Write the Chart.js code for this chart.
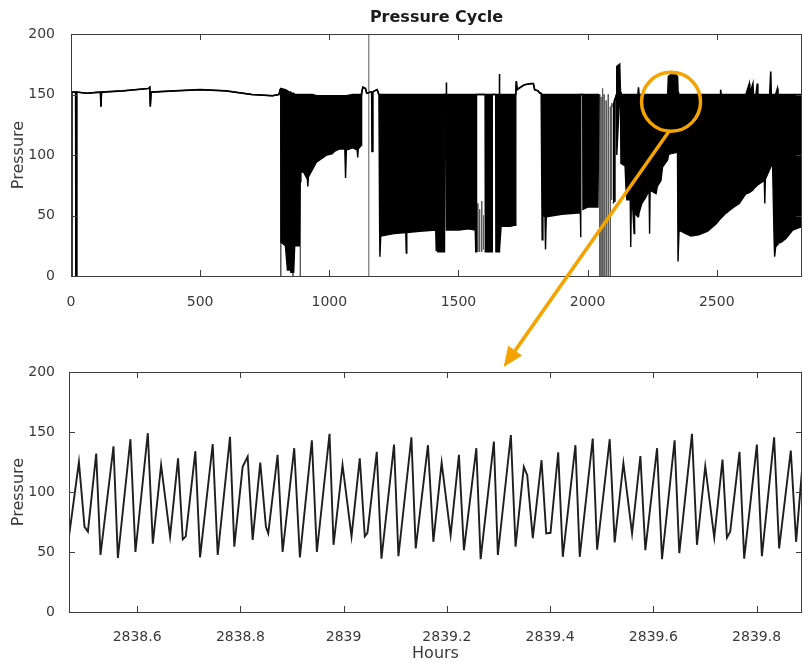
<!DOCTYPE html>
<html>
<head>
<meta charset="utf-8">
<script src="https://cdn.jsdelivr.net/npm/chart.js@4.4.1/dist/chart.umd.min.js"></script>
<style>
  body { margin: 0; background: #ffffff; }
  #wrap { position: relative; width: 803px; height: 663px; overflow: hidden; }
  #wrap canvas { position: absolute; left: 0; }
  #topCanvas { top: 0; }
  #zoomCanvas { top: 330px; }
  #mark { top: 0; pointer-events: none; }
</style>
</head>
<body>
<div id="wrap">
  <canvas id="topCanvas" width="803" height="330"></canvas>
  <canvas id="zoomCanvas" width="803" height="333"></canvas>
  <canvas id="mark" width="803" height="663"></canvas>
</div>
<script>
// ---- 위쪽 그래프: 전체 기간 (상단/하단 포락선, 사이를 검게 채움) ----
var topHours = [2, 3, 18, 19, 21, 22, 60, 114, 116, 118, 200, 300, 305, 307, 310, 400, 500, 600, 700, 780, 805,
	810, 812, 813, 830, 838, 845, 846, 850, 851, 862, 866, 884, 887, 890, 900, 915, 917, 919, 935, 950, 970, 990, 1010, 1020, 1040, 1060, 1063, 1066, 1090, 1108, 1110, 1112, 1124,
	1125, 1130, 1140, 1145, 1148, 1158, 1164, 1166, 1168, 1175, 1185, 1192,
	1195, 1196, 1199, 1250, 1296, 1298, 1300, 1350, 1412, 1414, 1416, 1420, 1446, 1448, 1452, 1453, 1454, 1500, 1540, 1565, 1567, 1569, 1570, 1603, 1604, 1630, 1631, 1644, 1645, 1657, 1658, 1660, 1665, 1700, 1720,
	1722, 1724, 1727, 1740, 1755, 1780, 1790, 1795, 1808, 1815, 1820,
	1824, 1827, 1835, 1837, 1840, 1900, 1960, 1972, 1973, 1974, 1981, 1982, 2000, 2040, 2044,
	2070,
	2098, 2104, 2106, 2112, 2113, 2124, 2127,
	2129, 2145, 2149, 2152, 2165, 2167, 2169, 2175, 2180, 2182, 2195, 2197, 2199, 2210, 2225, 2238, 2240, 2242, 2265, 2270, 2284, 2290, 2310, 2313, 2320, 2342, 2348, 2350, 2352, 2354,
	2380, 2400, 2430, 2465, 2497, 2513, 2515, 2517, 2536, 2560, 2587, 2613, 2626, 2628, 2640, 2642, 2652, 2657, 2659, 2684, 2686, 2688, 2705, 2709, 2711, 2716,
	2722, 2724, 2728, 2735, 2737, 2750, 2768, 2794, 2830];
var topUpper = [0, 152, 152, 0, 0, 152, 151, 152, 140, 152, 153, 155, 156, 140, 152, 153, 154, 153, 150, 149, 150,
	154, 155, 155, 154, 153, 152, 152, 152, 151, 151, 150, 150, 150, 150, 150, 150, 150, 150, 150, 149, 149, 149, 149, 149, 149, 149, 149, 149, 150, 150, 150, 150, 150,
	151, 156, 155, 151, 151, 152, 152, 103, 152, 153, 154, 150,
	150, 150, 150, 150, 150, 150, 150, 150, 150, 150, 150, 150, 150, 150, 150, 160, 150, 150, 150, 150, 150, 150, 150, 150, 150, 150, 150, 150, 150, 150, 167, 150, 150, 150, 150,
	151, 161, 154, 156, 158, 159, 159, 154, 153, 151, 151,
	150, 150, 150, 150, 150, 150, 150, 150, 150, 150, 150, 150, 150, 150, 150,
	null,
	140, 145, 145, 150, 173, 175, 152,
	150, 150, 150, 150, 150, 150, 150, 150, 150, 150, 150, 156, 150, 150, 150, 150, 150, 150, 150, 150, 150, 150, 150, 165, 166, 166, 165, 152, 150, 150,
	150, 150, 150, 150, 150, 150, 154, 150, 150, 150, 150, 150, 159, 150, 159, 150, 150, 159, 150, 150, 150, 150, 150, 169, 150, 150,
	150, 150, 150, 155, 150, 150, 150, 150, 150];
var topLower = [0, 152, 152, 0, 0, 152, 151, 152, 140, 152, 153, 155, 156, 140, 152, 153, 154, 153, 150, 149, 150,
	154, 155, 28, 25, 5, 5, 126, 126, 3, 3, 25, 25, 78, 86, 86, 80, 74, 82, 88, 94, 97, 100, 101, 103, 105, 105, 81, 104, 106, 104, 98, 105, 108,
	151, 156, 155, 151, 151, 152, 152, 103, 152, 153, 154, 150,
	34, 16, 33, 35, 36, 19, 36, 37, 38, 21, 38, 20, 20, 150, 150, 38, 38, 38, 39, 38, 20, 20, 150, 150, 20, 20, 150, 150, 20, 20, 20, 22, 41, 41, 42,
	151, 161, 154, 156, 158, 159, 159, 154, 153, 151, 151,
	30, 50, 49, 22, 49, 51, 52, 52, 32, 150, 150, 55, 57, 57, 150,
	null,
	60, 62, 145, 150, 100, 150, 152,
	93, 91, 71, 63, 63, 24, 58, 55, 35, 52, 49, 49, 52, 60, 65, 71, 35, 71, 68, 74, 79, 90, 96, 100, 101, 102, 102, 12, 12, 38,
	35, 33, 34, 37, 43, 47, 47, 48, 52, 56, 60, 68, 69, 69, 71, 72, 74, 75, 75, 79, 60, 80, 88, 90, 91, 93,
	30, 16, 24, 26, 27, 28, 31, 38, 41];

// 얇은 세로선 (회색으로 보이는 부분)
var lineHours = [812, 859, 888, 1153, 1575, 1582, 1590, 1597, 2047, 2052, 2058, 2064, 2072, 2080, 2088, 2093];
var lineFrom = [150, 150, 150, 0, 60, 55, 62, 50, 150, 148, 155, 150, 145, 150, 140, 143];
var lineTo = [0, 0, 0, 200, 20, 20, 20, 22, 0, 0, 0, 0, 0, 0, 0, 63];

// ---- 아래쪽 그래프: 확대 구간 ----
var zoomHours = [2838.468, 2838.4872, 2838.4981, 2838.5046, 2838.5207, 2838.5290, 2838.5542, 2838.5627, 2838.5870, 2838.5967,
	2838.6207, 2838.6304, 2838.6464, 2838.6638, 2838.6793, 2838.6884, 2838.6942, 2838.7128, 2838.7219, 2838.7464,
	2838.7561, 2838.7799, 2838.7882, 2838.8044, 2838.8141, 2838.8238, 2838.8385, 2838.8495, 2838.8540, 2838.8721,
	2838.8818, 2838.9043, 2838.9153, 2838.9385, 2838.9482, 2838.9727, 2838.9805, 2838.9979, 2839.0153, 2839.0313,
	2839.0410, 2839.0462, 2839.0642, 2839.0733, 2839.0977, 2839.1062, 2839.1313, 2839.1397, 2839.1634, 2839.1739,
	2839.1899, 2839.2073, 2839.2234, 2839.2331, 2839.2571, 2839.2654, 2839.2911, 2839.2988, 2839.3240, 2839.3331,
	2839.3491, 2839.3557, 2839.3665, 2839.3834, 2839.3925, 2839.4008, 2839.4157, 2839.4246, 2839.4491, 2839.4574,
	2839.4826, 2839.4911, 2839.5155, 2839.5251, 2839.5420, 2839.5588, 2839.5749, 2839.5845, 2839.6072, 2839.6168,
	2839.6412, 2839.6503, 2839.6749, 2839.6845, 2839.7006, 2839.7180, 2839.7340, 2839.7426, 2839.7489, 2839.7669,
	2839.7760, 2839.8006, 2839.8103, 2839.8340, 2839.8437, 2839.8663, 2839.8766, 2839.888];
var zoomPressure = [63, 125, 71, 67, 132, 47.5, 138, 45, 144, 50,
	149, 57, 122.5, 63, 128, 60.5, 63, 134, 45.5, 140,
	47.5, 146, 54.5, 121, 129.5, 60, 124.5, 71, 65.5, 131,
	50, 136.5, 45.5, 143, 50, 148.5, 56, 122.5, 63, 128,
	63, 66, 133.5, 44.5, 139.5, 46.5, 145.5, 53, 139, 58.5,
	124.5, 64, 131, 51.5, 136.5, 44, 142, 47.5, 147.5, 54.5,
	121, 114, 61.5, 126.5, 65.5, 66, 133, 46, 139, 46,
	144.5, 52, 144, 58, 124, 65.5, 130, 51.5, 136.5, 44,
	143, 49, 148.5, 56, 121.5, 62, 127, 62, 67, 133.5,
	44.5, 139.5, 46.5, 145.5, 53, 134.5, 58.5, 118];

// 축 범위 / 눈금
var topRange = [0, 2830];
var zoomRange = [2838.468, 2839.888];
var pressureRange = [0, 200];
var topTicks = [0, 500, 1000, 1500, 2000, 2500];
var zoomTicks = [2838.6, 2838.8, 2839, 2839.2, 2839.4, 2839.6, 2839.8];
var pressureTicks = [0, 50, 100, 150, 200];

// 주황색 표시 (원 중심, 화살표 끝)
var markHour = 2323;
var markPressure = 144;
var arrowHour = 2839.31;

var tickFont = { family: 'DejaVu Sans', size: 14 };
var labelFont = { family: 'DejaVu Sans', size: 16 };
var textColor = '#3a3a3a';

// MATLAB 스타일 박스 + 안쪽 눈금
var boxTicksPlugin = {
	id: 'boxTicks',
	afterDatasetsDraw(chart) {
		var ctx = chart.ctx;
		var a = chart.chartArea;
		var xs = chart.scales.x;
		var ys = chart.scales.y;
		var len = 6;
		ctx.save();
		ctx.strokeStyle = '#3c3c3c';
		ctx.lineWidth = 1;
		ctx.beginPath();
		xs.ticks.forEach(function (t) {
			var px = Math.round(xs.getPixelForValue(t.value)) + 0.5;
			ctx.moveTo(px, a.bottom);
			ctx.lineTo(px, a.bottom - len);
			ctx.moveTo(px, a.top);
			ctx.lineTo(px, a.top + len);
		});
		ys.ticks.forEach(function (t) {
			var py = Math.round(ys.getPixelForValue(t.value)) + 0.5;
			ctx.moveTo(a.left, py);
			ctx.lineTo(a.left + len, py);
			ctx.moveTo(a.right, py);
			ctx.lineTo(a.right - len, py);
		});
		ctx.stroke();
		ctx.strokeRect(Math.round(a.left) + 0.5, Math.round(a.top) + 0.5,
			Math.round(a.right - a.left) - 1, Math.round(a.bottom - a.top));
		ctx.restore();
	}
};

// 제목: 그래프 영역 가운데 위에 표시
var plotTitlePlugin = {
	id: 'plotTitle',
	afterDraw(chart, args, opts) {
		if (!opts.text) return;
		var ctx = chart.ctx;
		var a = chart.chartArea;
		ctx.save();
		ctx.font = 'bold 16px "DejaVu Sans"';
		ctx.fillStyle = '#1a1a1a';
		ctx.textAlign = 'center';
		ctx.textBaseline = 'middle';
		ctx.fillText(opts.text, (a.left + a.right) / 2, 18);
		ctx.restore();
	}
};

function toPoints(xs, ys) {
	return xs.map(function (x, i) { return { x: x, y: ys[i] }; });
}

function fixedTicks(values) {
	return function (scale) {
		scale.ticks = values.map(function (v) { return { value: v }; });
	};
}

var verticalPoints = [];
lineHours.forEach(function (h, i) {
	verticalPoints.push({ x: h, y: lineFrom[i] });
	verticalPoints.push({ x: h, y: lineTo[i] });
	verticalPoints.push({ x: h, y: null });
});

function yAxis(width, pad) {
	return {
		type: 'linear',
		min: pressureRange[0],
		max: pressureRange[1],
		grid: { display: false },
		border: { display: false },
		afterBuildTicks: fixedTicks(pressureTicks),
		ticks: { font: tickFont, color: textColor, padding: pad },
		title: { display: true, text: 'Pressure', font: labelFont, color: textColor, padding: { top: 9, bottom: 0 } },
		afterFit: function (scale) { scale.width = width; }
	};
}

function xAxis(range, values, height, pad) {
	return {
		type: 'linear',
		min: range[0],
		max: range[1],
		grid: { display: false },
		border: { display: false },
		afterBuildTicks: fixedTicks(values),
		ticks: {
			autoSkip: false,
			maxRotation: 0,
			font: tickFont,
			color: textColor,
			padding: pad,
			callback: function (v) { return String(v); }
		},
		afterFit: function (scale) { scale.height = height; }
	};
}

var topX = xAxis(topRange, topTicks, 54, 10);
var zoomX = xAxis(zoomRange, zoomTicks, 51, 9);
zoomX.title = { display: true, text: 'Hours', font: labelFont, color: textColor, padding: { top: 2, bottom: 0 } };

var topChart = new Chart(document.getElementById('topCanvas'), {
	type: 'line',
	data: {
		datasets: [{
			label: 'upper',
			data: toPoints(topHours, topUpper),
			borderColor: '#000000',
			borderWidth: 1.6,
			pointRadius: 0,
			fill: false
		}, {
			label: 'lower',
			data: toPoints(topHours, topLower),
			borderColor: '#000000',
			backgroundColor: '#000000',
			borderWidth: 1.4,
			pointRadius: 0,
			fill: '-1'
		}, {
			label: 'lines',
			data: verticalPoints,
			borderColor: '#5a5a5a',
			borderWidth: 1,
			pointRadius: 0,
			fill: false
		}]
	},
	options: {
		responsive: false,
		animation: false,
		plugins: {
			legend: { display: false },
			tooltip: { enabled: false },
			plotTitle: { text: 'Pressure Cycle' }
		},
		layout: { padding: { top: 34, right: 1, bottom: 0, left: 0 } },
		scales: {
			x: topX,
			y: yAxis(71, 8)
		}
	},
	plugins: [boxTicksPlugin, plotTitlePlugin]
});

var zoomChart = new Chart(document.getElementById('zoomCanvas'), {
	type: 'line',
	data: {
		datasets: [{
			label: 'Pressure',
			data: toPoints(zoomHours, zoomPressure),
			borderColor: '#1e1e1e',
			borderWidth: 1.9,
			pointRadius: 0,
			tension: 0,
			fill: false
		}]
	},
	options: {
		responsive: false,
		animation: false,
		plugins: {
			legend: { display: false },
			tooltip: { enabled: false }
		},
		layout: { padding: { top: 42, right: 1, bottom: 0, left: 0 } },
		scales: {
			x: zoomX,
			y: yAxis(69, 6)
		}
	},
	plugins: [boxTicksPlugin]
});

// 주황색 원과 화살표
function drawZoomMark() {
	var ctx = document.getElementById('mark').getContext('2d');
	var cx = topChart.scales.x.getPixelForValue(markHour);
	var cy = topChart.scales.y.getPixelForValue(markPressure);
	var r = 29.5;
	var tx = zoomChart.scales.x.getPixelForValue(arrowHour);
	var ty = 330 + zoomChart.chartArea.top - 5;
	var sx = cx - 2;
	var sy = cy + r;
	var dx = tx - sx, dy = ty - sy;
	var d = Math.sqrt(dx * dx + dy * dy);
	var ux = dx / d, uy = dy / d;
	var head = 20, half = 8.5;
	var bx = tx - ux * head, by = ty - uy * head;

	ctx.save();
	ctx.strokeStyle = '#F4A300';
	ctx.fillStyle = '#F4A300';
	ctx.lineWidth = 3.5;
	ctx.beginPath();
	ctx.arc(cx, cy, r, 0, Math.PI * 2);
	ctx.stroke();
	ctx.beginPath();
	ctx.moveTo(sx, sy);
	ctx.lineTo(bx, by);
	ctx.stroke();
	ctx.beginPath();
	ctx.moveTo(tx, ty);
	ctx.lineTo(bx - uy * half, by + ux * half);
	ctx.lineTo(bx + uy * half, by - ux * half);
	ctx.closePath();
	ctx.fill();
	ctx.restore();
}
drawZoomMark();
</script>
</body>
</html>
